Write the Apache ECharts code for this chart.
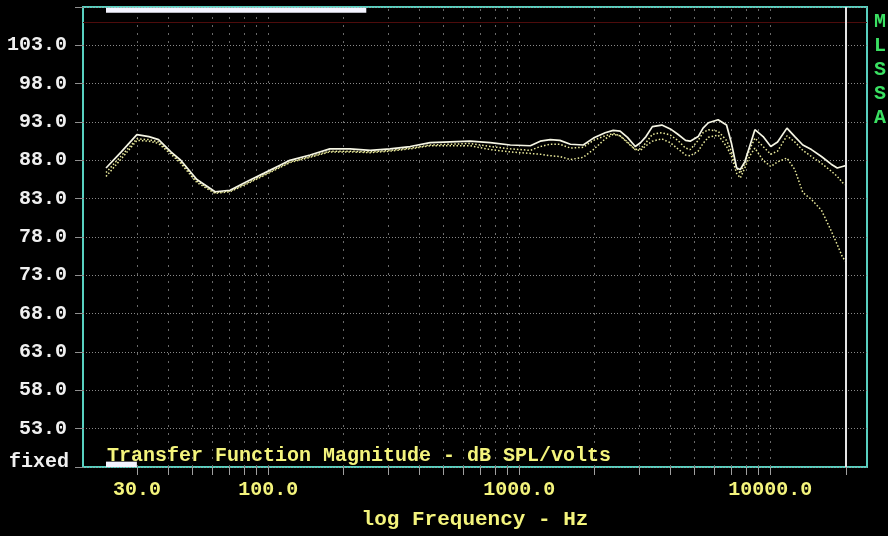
<!DOCTYPE html>
<html><head><meta charset="utf-8">
<script src="https://cdn.jsdelivr.net/npm/echarts@6/dist/echarts.min.js"></script>
<style>html,body{margin:0;padding:0;background:#000}#c{width:888px;height:536px}</style>
</head><body><div id="c"></div>
<script>
const freqs = [22.6, 26, 30, 33.5, 36.6, 41, 44.6, 52, 61.5, 70.5, 82, 96, 112, 122, 147, 176, 212, 255, 306, 368, 442, 531, 638, 767, 922, 1108, 1213, 1330, 1453, 1600, 1800, 1975, 2200, 2369, 2524, 2700, 2901, 3042, 3200, 3393, 3700, 4000, 4286, 4600, 4800, 5165, 5400, 5672, 6200, 6700, 7000, 7350, 7600, 7920, 8300, 8690, 9370, 10050, 10700, 11660, 12530, 13490, 14600, 16000, 17500, 18500, 19400, 20000];
const curveA = [87.0,89.1,91.35,91.1,90.7,89.1,88.1,85.5,83.9,84.1, 85.2,86.3,87.4,88.0,88.7,89.5,89.5,89.3,89.5,89.8, 90.3,90.4,90.5,90.3,90.0,89.9,90.5,90.7,90.6,90.1, 90.0,90.9,91.6,91.9,91.8,91.0,89.8,90.3,91.1,92.4, 92.6,92.1,91.4,90.6,90.5,91.1,92.2,92.9,93.3,92.6, 90.3,87.0,86.8,87.8,89.9,92.0,91.1,89.8,90.4,92.2, 91.1,90.0,89.4,88.5,87.5,87.0,87.2,87.3];
const curveB = [86.4,88.6,90.8,90.7,90.4,89.0,87.9,85.3,83.8,84.0, 85.0,86.1,87.2,87.8,88.5,89.2,89.2,89.1,89.3,89.6, 90.0,90.1,90.2,89.8,89.5,89.3,89.8,90.1,90.1,89.6, 89.7,90.6,91.2,91.5,91.2,90.4,89.4,89.5,90.3,91.4, 91.6,91.3,90.6,89.6,89.4,90.6,91.6,92.0,91.8,90.6, 89.2,87.0,86.3,87.6,89.5,90.9,89.8,88.8,89.2,91.2, 90.4,89.3,88.5,87.6,86.6,85.9,85.1,84.8];
const curveC = [85.9,88.2,90.6,90.5,90.2,88.8,87.7,85.1,83.7,83.9, 84.9,86.0,87.1,87.7,88.4,89.1,89.1,89.0,89.2,89.5, 89.9,89.9,89.9,89.4,89.1,88.9,88.8,88.6,88.5,88.1, 88.4,89.4,90.8,91.4,91.2,90.3,89.4,89.3,89.9,90.5, 90.8,90.3,89.5,88.7,88.6,89.2,90.2,91.0,91.3,89.8, 88.6,86.3,85.7,87.0,88.6,89.6,88.0,87.2,87.8,88.3, 86.8,83.8,82.9,81.5,78.8,77.0,75.4,74.8];
const xLabelValues = [30, 100, 1000, 10000];
const xTickValues = [30,40,50,60,70,80,90,100,200,300,400,500,600,700,800,900,1000,2000,3000,4000,5000,6000,7000,8000,9000,10000,20000];
const gridFreqs = [30,40,50,60,70,80,90,100,200,300,400,500,600,700,800,900,1000,2000,3000,4000,5000,6000,7000,8000,9000,10000];
const yMin = 48, yMax = 108, yStep = 5;
const xMin = 18.3, xMax = 24300;
const dataEnd = 20000;
const refLevel = 106;
const topBar = [22.6, 246];
const bottomBar = [22.6, 30];

const FONT = "'Liberation Mono','DejaVu Sans Mono',monospace";
const YEL = '#f4f47c';
const chart = echarts.init(document.getElementById('c'));
const pairs = arr => freqs.map((f, i) => [f, arr[i]]);

chart.setOption({
  backgroundColor: '#000',
  animation: false,
  title: [
    {text: 'Transfer Function Magnitude - dB SPL/volts', left: 107, top: 446, padding: 0,
     textStyle: {color: YEL, fontFamily: FONT, fontWeight: 'bold', fontSize: 20}},
    {text: 'M\nL\nS\nS\nA', left: 874, top: 10, padding: 0,
     textStyle: {color: '#3ae062', fontFamily: FONT, fontWeight: 'bold', fontSize: 20, lineHeight: 24}},
    {text: 'fixed', left: 9, top: 452, padding: 0,
     textStyle: {color: '#f0f0f0', fontFamily: FONT, fontWeight: 'bold', fontSize: 20}}
  ],
  grid: {left: 83, right: 21, top: 7, bottom: 69, show: true, borderColor: '#58d0c0', borderWidth: 2},
  xAxis: {
    type: 'log', logBase: 10, min: xMin, max: xMax,
    name: 'log Frequency - Hz', nameLocation: 'middle', nameGap: 42,
    nameTextStyle: {color: YEL, fontFamily: FONT, fontWeight: 'bold', fontSize: 21},
    axisLine: {show: false}, splitLine: {show: false}, minorTick: {show: false},
    axisTick: {show: true, customValues: xTickValues, length: 8, lineStyle: {color: '#a0a0a0'}},
    axisLabel: {customValues: xLabelValues, formatter: v => Number(v).toFixed(1),
      color: YEL, fontFamily: FONT, fontWeight: 'bold', fontSize: 20, margin: 13}
  },
  yAxis: {
    type: 'value', min: yMin, max: yMax, interval: yStep,
    axisLine: {show: false},
    axisTick: {show: true, length: 8, lineStyle: {color: '#909090'}},
    axisLabel: {formatter: v => (v > yMin && v < yMax) ? v.toFixed(1) : '',
      color: '#f0f0f0', fontFamily: FONT, fontWeight: 'bold', fontSize: 20, margin: 16},
    splitLine: {show: true, lineStyle: {color: '#8a8a8a', type: [1, 2], width: 1}}
  },
  series: [
    {type: 'line', data: [], z: 1, silent: true,
     markLine: {z: 1, silent: true, symbol: ['none', 'none'], label: {show: false}, animation: false,
       lineStyle: {color: '#6a6a6a', type: [2, 6], width: 1},
       data: gridFreqs.map(f => ({xAxis: f})).concat([
         {yAxis: refLevel, lineStyle: {color: '#4e0c0c', type: 'solid', width: 1}}
       ])}},
    {name: 'C', type: 'line', data: pairs(curveC), showSymbol: false, z: 3,
     lineStyle: {color: '#ecec9c', width: 1.5, type: [1.5, 2]}},
    {name: 'B', type: 'line', data: pairs(curveB), showSymbol: false, z: 3,
     lineStyle: {color: '#ecec9c', width: 1.5, type: [1.5, 2]}},
    {name: 'A', type: 'line', data: pairs(curveA), showSymbol: false, z: 4,
     lineStyle: {color: '#f6f6e4', width: 1.7}},
    {type: 'line', data: [], z: 6, silent: true,
     markLine: {z: 6, silent: true, symbol: ['none', 'none'], label: {show: false}, animation: false,
       lineStyle: {color: '#e4e4e4', type: 'solid', width: 2},
       data: [{xAxis: dataEnd}]},
     markArea: {z: 7, silent: true, label: {show: false}, itemStyle: {color: '#f4f4ff'},
       data: [
         [{xAxis: topBar[0], yAxis: 107.25}, {xAxis: topBar[1], yAxis: 107.9}],
         [{xAxis: bottomBar[0], yAxis: yMin}, {xAxis: bottomBar[1], yAxis: 48.7}]
       ]}}
  ]
});
</script></body></html>
